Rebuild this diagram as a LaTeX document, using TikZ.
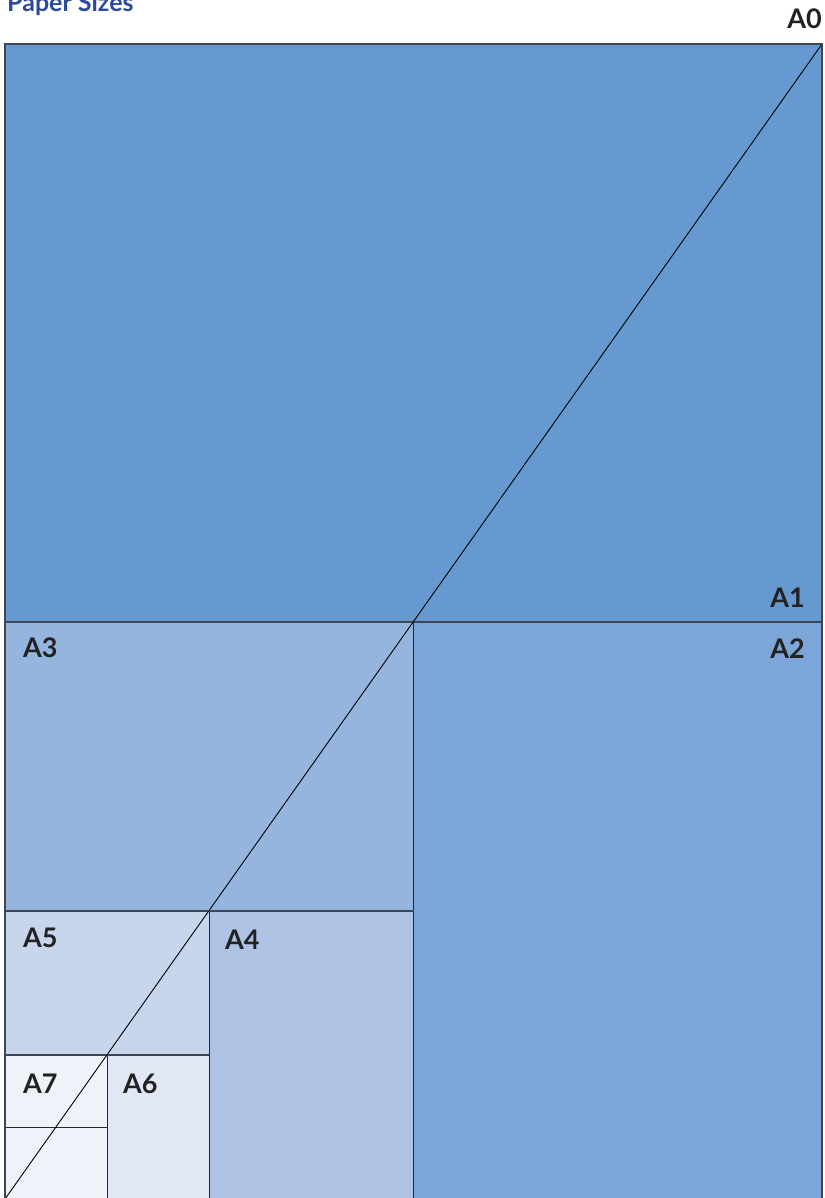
\documentclass[tikz,border=0pt]{standalone}
\usepackage{fontspec}
\setmainfont{Lato}
\definecolor{cA1}{HTML}{6699D0}
\definecolor{cA2}{HTML}{7CA6D8}
\definecolor{cA3}{HTML}{95B5DE}
\definecolor{cA4}{HTML}{AEC3E3}
\definecolor{cA5}{HTML}{C7D6ED}
\definecolor{cA6}{HTML}{E1E8F5}
\definecolor{cA7}{HTML}{EEF3FA}
\definecolor{titleblue}{HTML}{2B4A9B}
\definecolor{border}{HTML}{3C4656}
\definecolor{labeltext}{HTML}{222222}
\begin{document}
\begin{tikzpicture}[x=1pt,y=-1pt,
  lab/.style={inner sep=0pt,font=\bfseries\fontsize{27}{30}\selectfont,text=labeltext},
  inner/.style={draw=black!85,line width=1pt}]
\useasboundingbox (0,0) rectangle (824,1198);
\begin{scope}
\clip (0,0) rectangle (824,1198);
% regions
\fill[cA1] (5,44) rectangle (822,622);
\fill[cA2] (413.5,622) rectangle (822,1199);
\fill[cA3] (5,622) rectangle (413.5,911);
\fill[cA4] (209,911) rectangle (413.5,1199);
\fill[cA5] (5,911) rectangle (209,1055);
\fill[cA6] (107,1055) rectangle (209,1199);
\fill[cA7] (5,1055) rectangle (107,1199);
% dividing lines
\draw[inner] (413.5,622) -- (413.5,1199);
\draw[inner] (209,911) -- (209,1199);
\draw[inner] (107,1055) -- (107,1199);
\draw[inner] (5,1127.5) -- (107,1127.5);
\draw[border,line width=1.6pt] (5,1055) -- (209,1055);
\draw[border,line width=1.6pt] (5,911) -- (413.5,911);
\draw[border,line width=1.6pt] (5,622) -- (822,622);
% diagonal
\draw[black,line width=0.9pt] (5,1199) -- (822,44);
% outer border
\draw[border,line width=2pt] (5,1210) -- (5,44) -- (822,44) -- (822,1210);
% title (cut at the top edge, as in the reference)
\node[anchor=base west,inner sep=0pt,text=titleblue,font=\bfseries\fontsize{25}{28}\selectfont] (title) at (7,12) {Paper Sizes};
\end{scope}
% labels
\node[lab,anchor=base east] (a0) at (822,29) {A0};
\node[lab,anchor=base east] (a1) at (805,607) {A1};
\node[lab,anchor=base east] (a2) at (805,658) {A2};
\node[lab,anchor=base west] (a3) at (23,657) {A3};
\node[lab,anchor=base west] (a4) at (225,949) {A4};
\node[lab,anchor=base west] (a5) at (23,947) {A5};
\node[lab,anchor=base west] (a6) at (123,1093) {A6};
\node[lab,anchor=base west] (a7) at (23,1093) {A7};
\end{tikzpicture}
\end{document}
